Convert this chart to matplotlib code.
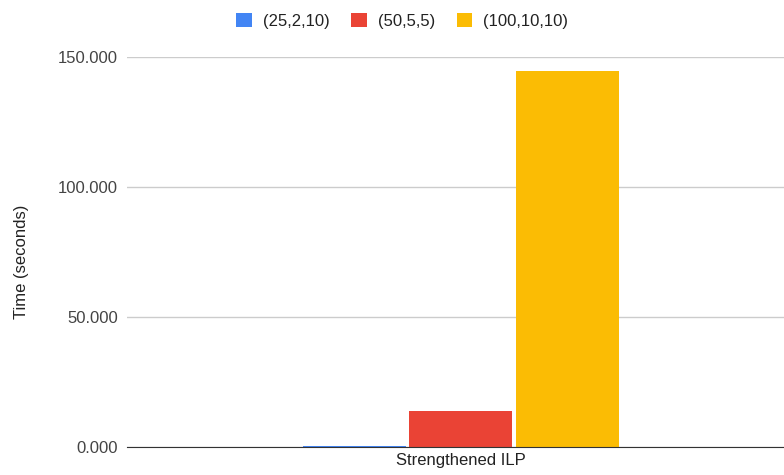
import matplotlib.pyplot as plt
import numpy as np

plt.rcParams['font.family'] = ['Liberation Sans', 'DejaVu Sans']

categories = ["Strengthened ILP"]
series = ["(25,2,10)", "(50,5,5)", "(100,10,10)"]
values = [0.5, 13.8, 144.8]
colors = ["#4285F4", "#EA4335", "#FBBC04"]
yticks = [0, 50, 100, 150]

W, H = 784, 475
fig = plt.figure(figsize=(W / 100, H / 100), dpi=100)
# plot area runs a little past the right edge, as in the reference
ax = fig.add_axes([127 / W, 1 - 447 / H, 668 / W, 390 / H])

# bar layout in pixel-like units
width = 103
step = 107
offsets = (np.arange(len(series)) - 1) * step
for off, val, col, name in zip(offsets, values, colors, series):
    ax.bar(off, val, width=width, color=col, label=name, zorder=3)

ax.set_xlim(-334, 334)
ax.set_ylim(0, 150)
ax.set_xticks([0])
ax.set_xticklabels(categories, fontsize=12, color="#222222")
ax.set_yticks(yticks)
ax.set_yticklabels([f"{t:.3f}" for t in yticks], fontsize=12, color="#444444")
ax.tick_params(axis="both", length=0)
ax.tick_params(axis="y", pad=6.5)
ax.tick_params(axis="x", pad=4)
ax.grid(axis="y", color="#cccccc", linewidth=1, zorder=0)
for s in ["top", "right", "left"]:
    ax.spines[s].set_visible(False)
ax.spines["bottom"].set_color("#333333")
ax.spines["bottom"].set_zorder(4)
fig.text(22 / W, 1 - 262 / H, "Time (seconds)", rotation=90, fontsize=12,
         color="#222222", ha="center", va="center")

fig.legend(loc="center", bbox_to_anchor=(402 / W, 1 - 21 / H), ncol=3, frameon=False,
           fontsize=12, handlelength=0.95, handleheight=0.95, columnspacing=1.3,
           handletextpad=0.65, labelcolor="#222222", borderpad=0)

fig.savefig("out.png", dpi=100)
